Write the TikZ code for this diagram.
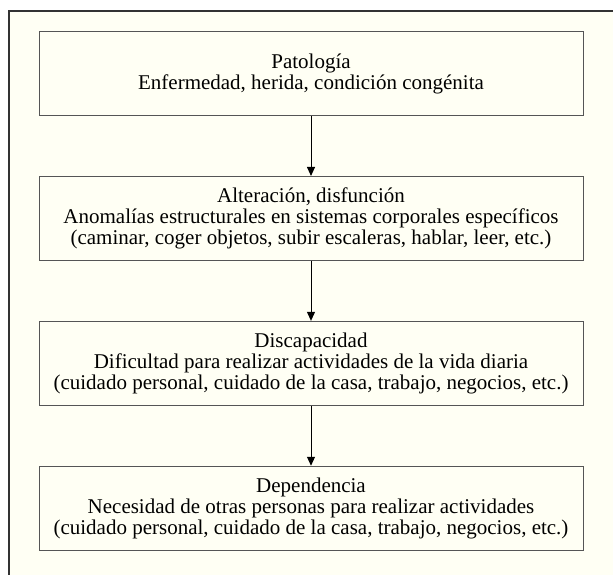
\documentclass[tikz,border=0pt]{standalone}
\usepackage{fontspec}
\setmainfont{Liberation Serif}
\usepackage{xcolor}
\definecolor{paperIvory}{HTML}{FFFFF4}
\definecolor{frameDark}{HTML}{333333}
\definecolor{boxGray}{HTML}{555555}
\usepackage{tikz}
\usetikzlibrary{
    arrows.meta,
    positioning
}
\tikzset{
    % Base style for the stage boxes
    stage/.style={
        rectangle,
        draw=boxGray,
        line width=0.9pt,
        fill=paperIvory,
        align=center,
        font=\fontsize{21}{21}\selectfont,
        minimum width=544pt,
        minimum height=84pt,
        inner sep=2pt,
    },
    % Connector between stages
    arrow/.style={
        -{Triangle[length=9pt, width=8pt]},
        line width=1pt,
        draw=black,
    },
}

\begin{document}
\begin{tikzpicture}[x=1pt, y=-1pt, node distance=60pt]
    \useasboundingbox (0,0) rectangle (613,575);
    % outer frame, cut off at right and bottom
    \fill[paperIvory] (9,11) rectangle (613,575);
    \draw[frameDark, line width=1.3pt] (9,580) -- (9,11) -- (620,11);

    \node (patologia) [stage] at (311,73.5)
        {Patología\\Enfermedad, herida, condición congénita};
    \node (alteracion) [stage, below=of patologia]
        {Alteración, disfunción\\Anomalías estructurales en sistemas corporales específicos\\(caminar, coger objetos, subir escaleras, hablar, leer, etc.)};
    \node (discapacidad) [stage, below=of alteracion]
        {Discapacidad\\Dificultad para realizar actividades de la vida diaria\\(cuidado personal, cuidado de la casa, trabajo, negocios, etc.)};
    \node (dependencia) [stage, below=of discapacidad]
        {Dependencia\\Necesidad de otras personas para realizar actividades\\(cuidado personal, cuidado de la casa, trabajo, negocios, etc.)};

    \draw [arrow] (patologia) -- (alteracion);
    \draw [arrow] (alteracion) -- (discapacidad);
    \draw [arrow] (discapacidad) -- (dependencia);
\end{tikzpicture}
\end{document}
